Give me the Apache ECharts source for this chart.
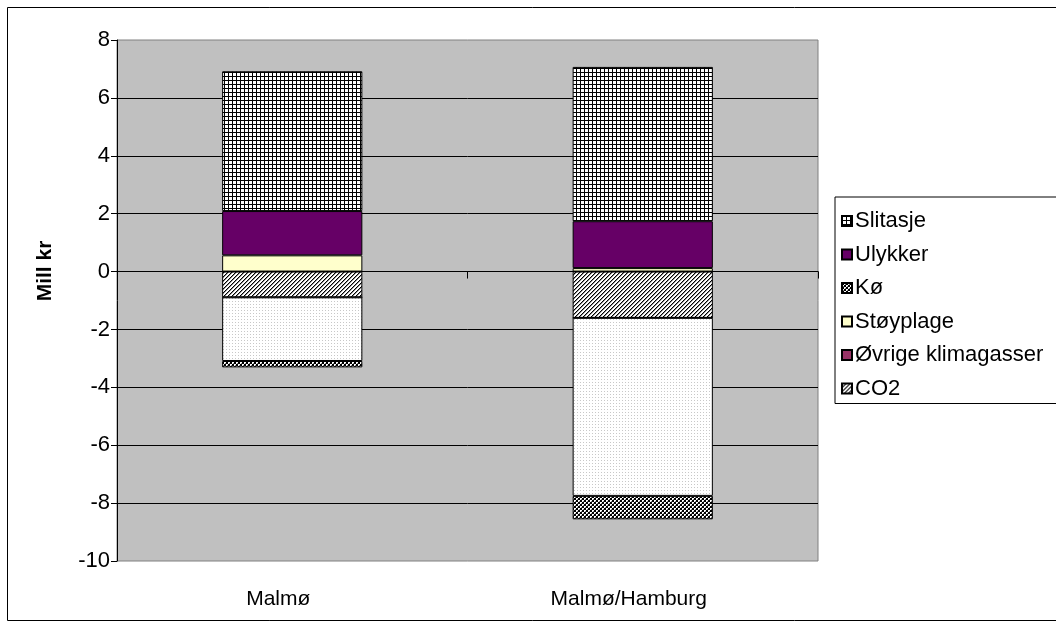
<!DOCTYPE html>
<html>
<head>
<meta charset="utf-8">
<script src="https://cdn.jsdelivr.net/npm/echarts@6/dist/echarts.min.js"></script>
<style>
  html, body { margin: 0; padding: 0; background: #fff; }
  #chart { width: 1056px; height: 628px; }
</style>
</head>
<body>
<div id="chart"></div>
<script>
// Categories and values (Mill kr)
const categories = ['Malmø', 'Malmø/Hamburg'];
const co2 = [-0.89, -1.60];
const ovrigeKlimagasser = [0, 0];
const lokaleUtslipp = [-2.20, -6.15];
const stoyplage = [0.56, 0.12];
const ko = [-0.22, -0.81];
const ulykker = [1.53, 1.62];
const slitasje = [4.83, 5.33];
const legendOrder = ['Slitasje', 'Ulykker', 'Kø', 'Støyplage', 'Øvrige klimagasser', 'CO2'];

// Small repeating fill tiles
function tile(size, bg, draw) {
  const c = document.createElement('canvas');
  c.width = size; c.height = size;
  const g = c.getContext('2d');
  g.fillStyle = bg; g.fillRect(0, 0, size, size);
  draw(g);
  return { image: c, repeat: 'repeat' };
}
const gridFill = tile(4, '#ffffff', g => {
  g.fillStyle = '#000'; g.fillRect(0, 0, 4, 1); g.fillRect(0, 0, 1, 4);
});
const checkFill = tile(4, '#ffffff', g => {
  g.fillStyle = '#000';
  g.fillRect(0, 0, 2, 2); g.fillRect(2, 2, 2, 2);
  g.fillStyle = '#808080'; g.fillRect(1, 3, 1, 1); g.fillRect(3, 1, 1, 1);
});
const diagFill = tile(4, '#ffffff', g => {
  g.fillStyle = '#000';
  for (let y = 0; y < 4; y++) {
    g.fillRect((3 - y + 4) % 4, y, 1, 1);
  }
  g.fillStyle = '#909090';
  for (let y = 0; y < 4; y++) {
    g.fillRect((4 - y + 4) % 4, y, 1, 1);
  }
});
const dotFill = tile(3, '#ffffff', g => {
  g.fillStyle = '#c8c8c8'; g.fillRect(1, 1, 1, 1);
});

function bar(name, data, color) {
  return {
    name, type: 'bar', stack: 'total', data,
    barWidth: '40%',
    itemStyle: { color, borderColor: '#000', borderWidth: 1 },
    emphasis: { disabled: true }
  };
}

const font = 'Liberation Sans, Arial, sans-serif';
const chart = echarts.init(document.getElementById('chart'), null, { renderer: 'canvas' });
chart.setOption({
  animation: false,
  backgroundColor: '#ffffff',
  textStyle: { fontFamily: font },
  graphic: [{
    type: 'rect', z: 100, silent: true,
    shape: { x: 7.5, y: 7.5, width: 1100, height: 613 },
    style: { fill: 'none', stroke: '#000', lineWidth: 1 }
  }, {
    // y-axis title
    type: 'text', x: 45, y: 271, rotation: Math.PI / 2, silent: true,
    style: {
      text: 'Mill kr', fill: '#000', align: 'center', verticalAlign: 'middle',
      font: 'bold 21px ' + font
    }
  }],
  grid: {
    left: 117, top: 40, width: 701, height: 521,
    show: true, backgroundColor: '#c0c0c0', borderColor: '#808080', borderWidth: 1
  },
  legend: {
    orient: 'vertical', left: 835, top: 197,
    padding: [13, 30, 4, 6], itemGap: 11.5,
    itemWidth: 10, itemHeight: 10, icon: 'rect',
    borderColor: '#000', borderWidth: 1,
    data: legendOrder,
    textStyle: { fontFamily: font, fontSize: 22, color: '#000', padding: [0, 0, 0, -2] }
  },
  xAxis: [{
    type: 'category', data: categories,
    axisLine: { onZero: true, lineStyle: { color: '#000', width: 1 } },
    axisTick: { show: true, length: 7, lineStyle: { color: '#000' } },
    axisLabel: { show: false },
    splitLine: { show: false }
  }, {
    type: 'category', data: categories, position: 'bottom',
    axisLine: { show: false, onZero: false },
    axisTick: { show: false },
    axisLabel: { fontFamily: font, fontSize: 21, color: '#000', margin: 28, padding: [0, 28, 0, 0] }
  }],
  yAxis: {
    type: 'value', min: -10, max: 8, interval: 2,
    axisLine: { show: true, lineStyle: { color: '#000', width: 1 } },
    axisTick: { show: true, length: 6, lineStyle: { color: '#000' } },
    axisLabel: { fontFamily: font, fontSize: 22, color: '#000', margin: 7 },
    splitLine: { show: true, showMinLine: false, showMaxLine: false, lineStyle: { color: '#000', width: 1 } }
  },
  series: [
    bar('CO2', co2, diagFill),
    bar('Øvrige klimagasser', ovrigeKlimagasser, '#993366'),
    bar('Lokale utslipp', lokaleUtslipp, dotFill),
    bar('Støyplage', stoyplage, '#ffffcc'),
    bar('Kø', ko, checkFill),
    bar('Ulykker', ulykker, '#660066'),
    bar('Slitasje', slitasje, gridFill)
  ]
});
</script>
</body>
</html>
